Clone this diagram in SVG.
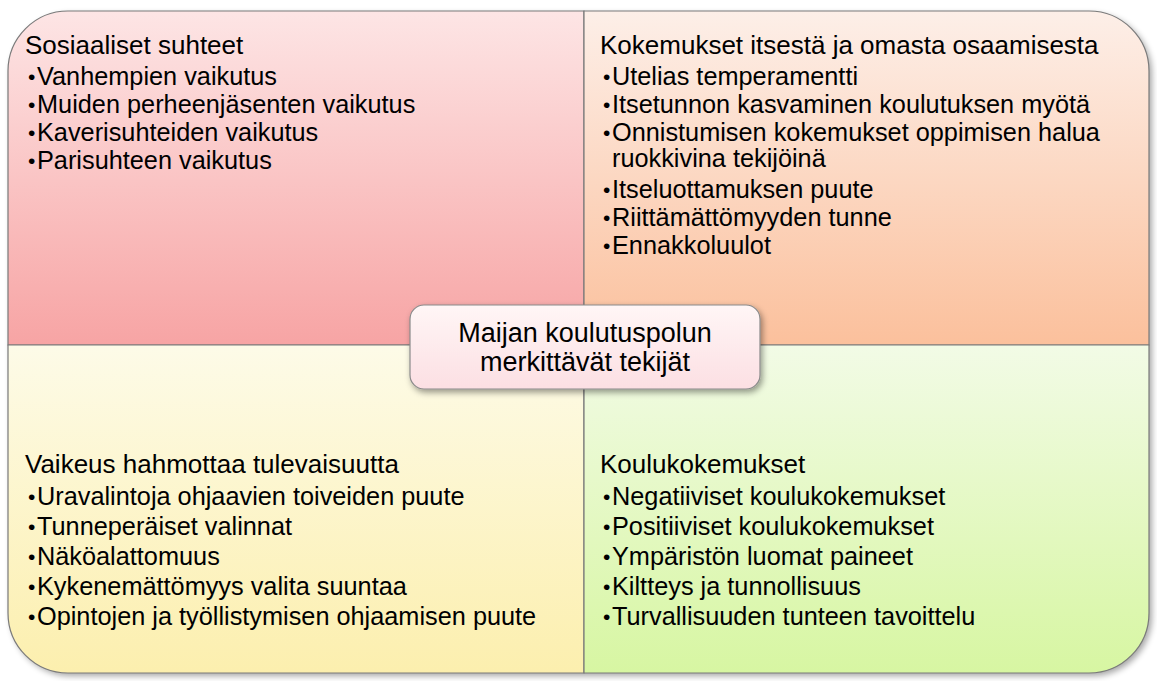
<svg xmlns="http://www.w3.org/2000/svg" width="1157" height="681" viewBox="0 0 1157 681">
<defs>
<linearGradient id="gTL" x1="0" y1="0" x2="0" y2="1"><stop offset="0" stop-color="#fde5e5"/><stop offset="1" stop-color="#f7a4a4"/></linearGradient>
<linearGradient id="gTR" x1="0" y1="0" x2="0" y2="1"><stop offset="0" stop-color="#fdefe8"/><stop offset="1" stop-color="#fbc09c"/></linearGradient>
<linearGradient id="gBL" x1="0" y1="0" x2="0" y2="1"><stop offset="0" stop-color="#fdfbe8"/><stop offset="1" stop-color="#fcefae"/></linearGradient>
<linearGradient id="gBR" x1="0" y1="0" x2="0" y2="1"><stop offset="0" stop-color="#f2fbe6"/><stop offset="1" stop-color="#d7f6a2"/></linearGradient>
<linearGradient id="gC" x1="0" y1="0" x2="0" y2="1"><stop offset="0" stop-color="#fff6f6"/><stop offset="1" stop-color="#fcdfe3"/></linearGradient>
<filter id="sh" x="-5%" y="-5%" width="110%" height="110%"><feGaussianBlur stdDeviation="3"/></filter>
<filter id="shC" x="-10%" y="-20%" width="120%" height="150%"><feDropShadow dx="2" dy="3" stdDeviation="3" flood-color="#000" flood-opacity="0.4"/></filter>
<style>
.q{stroke:#7a7a7a;stroke-width:1.2}
.t{font-family:"Liberation Sans",Arial,sans-serif;fill:#000}
.h{font-size:26px}
.b{font-size:25.3px}
.d{font-size:21px}
.c{font-size:27px;text-anchor:middle}
</style>
</defs>
<path d="M11,345 L11,74 A60,60 0 0 1 71,14 L1092,14 A60,60 0 0 1 1152,74 L1152,616 A60,60 0 0 1 1092,676 L71,676 A60,60 0 0 1 11,616 Z" fill="#000" opacity="0.35" filter="url(#sh)"/>
<g id="node-social">
<path class="q" fill="url(#gTL)" d="M8,345 L8,71 A60,60 0 0 1 68,11 L584,11 L584,345 Z"/>
<text class="t h" x="25" y="54">Sosiaaliset suhteet</text>
<g class="t">
<text class="d" x="28" y="84">•</text><text class="b" x="37" y="85">Vanhempien vaikutus</text>
<text class="d" x="28" y="112">•</text><text class="b" x="37" y="113">Muiden perheenjäsenten vaikutus</text>
<text class="d" x="28" y="140">•</text><text class="b" x="37" y="141">Kaverisuhteiden vaikutus</text>
<text class="d" x="28" y="168">•</text><text class="b" x="37" y="169">Parisuhteen vaikutus</text>
</g>
</g>
<g id="node-self">
<path class="q" fill="url(#gTR)" d="M584,11 L1089,11 A60,60 0 0 1 1149,71 L1149,345 L584,345 Z"/>
<text class="t h" x="600" y="54">Kokemukset itsestä ja omasta osaamisesta</text>
<g class="t">
<text class="d" x="603" y="84">•</text><text class="b" x="612" y="85">Utelias temperamentti</text>
<text class="d" x="603" y="112">•</text><text class="b" x="612" y="113">Itsetunnon kasvaminen koulutuksen myötä</text>
<text class="d" x="603" y="140">•</text><text class="b" x="612" y="141">Onnistumisen kokemukset oppimisen halua</text>
<text class="b" x="612" y="167">ruokkivina tekijöinä</text>
<text class="d" x="603" y="197">•</text><text class="b" x="612" y="198">Itseluottamuksen puute</text>
<text class="d" x="603" y="225">•</text><text class="b" x="612" y="226">Riittämättömyyden tunne</text>
<text class="d" x="603" y="253">•</text><text class="b" x="612" y="254">Ennakkoluulot</text>
</g>
</g>
<g id="node-future">
<path class="q" fill="url(#gBL)" d="M8,345 L584,345 L584,673 L68,673 A60,60 0 0 1 8,613 Z"/>
<text class="t h" x="25" y="473">Vaikeus hahmottaa tulevaisuutta</text>
<g class="t">
<text class="d" x="28" y="504">•</text><text class="b" x="37" y="505">Uravalintoja ohjaavien toiveiden puute</text>
<text class="d" x="28" y="534">•</text><text class="b" x="37" y="535">Tunneperäiset valinnat</text>
<text class="d" x="28" y="564">•</text><text class="b" x="37" y="565">Näköalattomuus</text>
<text class="d" x="28" y="594">•</text><text class="b" x="37" y="595">Kykenemättömyys valita suuntaa</text>
<text class="d" x="28" y="624">•</text><text class="b" x="37" y="625">Opintojen ja työllistymisen ohjaamisen puute</text>
</g>
</g>
<g id="node-school">
<path class="q" fill="url(#gBR)" d="M584,345 L1149,345 L1149,613 A60,60 0 0 1 1089,673 L584,673 Z"/>
<text class="t h" x="600" y="473">Koulukokemukset</text>
<g class="t">
<text class="d" x="603" y="504">•</text><text class="b" x="612" y="505">Negatiiviset koulukokemukset</text>
<text class="d" x="603" y="534">•</text><text class="b" x="612" y="535">Positiiviset koulukokemukset</text>
<text class="d" x="603" y="564">•</text><text class="b" x="612" y="565">Ympäristön luomat paineet</text>
<text class="d" x="603" y="594">•</text><text class="b" x="612" y="595">Kiltteys ja tunnollisuus</text>
<text class="d" x="603" y="624">•</text><text class="b" x="612" y="625">Turvallisuuden tunteen tavoittelu</text>
</g>
</g>
<g id="connectors"/>
<g id="node-center">
<rect x="410" y="305" width="350" height="84" rx="14" ry="14" fill="url(#gC)" stroke="#8a8a8a" stroke-width="1.2" filter="url(#shC)"/>
<text class="t c" x="585" y="342">Maijan koulutuspolun</text>
<text class="t c" x="585" y="371">merkittävät tekijät</text>
</g>
</svg>
